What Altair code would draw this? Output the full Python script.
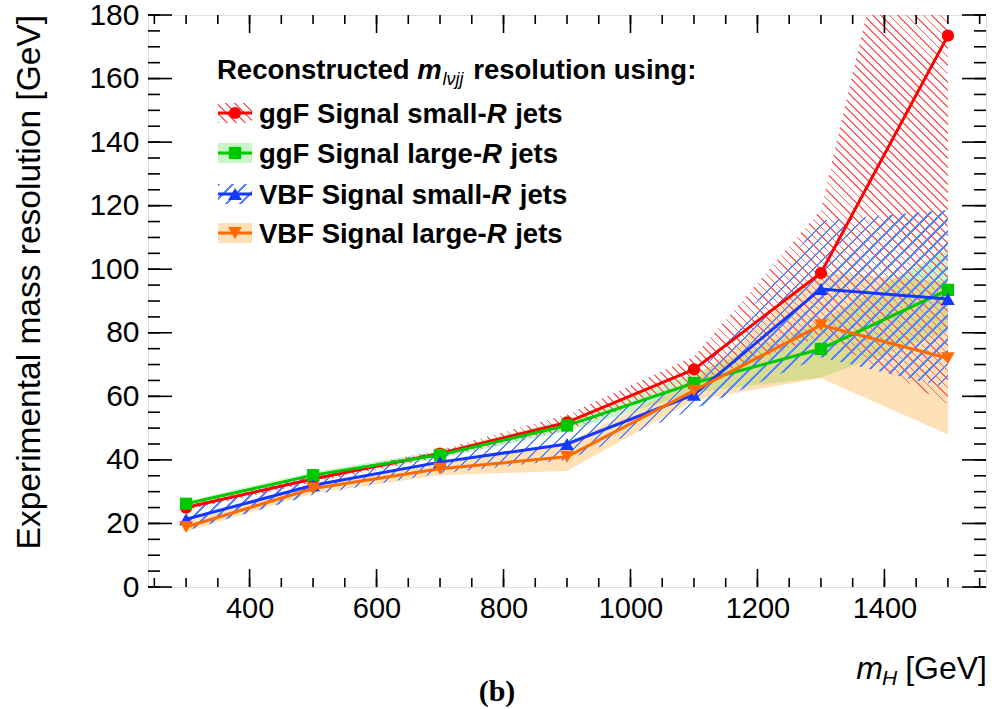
import altair as alt
import pandas as pd

# ---------------- data ----------------
mH = [300, 500, 700, 900, 1100, 1300, 1500]

ggF_small = [25.0, 34.0, 42.0, 51.8, 68.5, 98.8, 173.5]
ggF_small_err = [0.8, 1.0, 1.2, 2.5, 4.0, 20.0, 116.0]

ggF_large = [26.2, 35.2, 41.6, 50.8, 64.2, 74.9, 93.5]
ggF_large_err = [0.8, 1.0, 1.2, 1.8, 3.0, 9.0, 13.0]

VBF_small = [21.3, 32.0, 39.3, 45.0, 60.5, 93.8, 90.6]
VBF_small_err = [3.5, 3.0, 3.5, 5.0, 4.5, 21.5, 28.0]

VBF_large = [18.9, 31.0, 37.2, 41.0, 61.8, 82.4, 72.0]
VBF_large_err = [1.5, 1.5, 2.0, 4.5, 3.0, 16.7, 24.0]

x_tick_labels = [400, 600, 800, 1000, 1200, 1400]
y_tick_labels = [0, 20, 40, 60, 80, 100, 120, 140, 160, 180]
x_minor = list(range(250, 1551, 50))
y_minor = list(range(0, 181, 5))

# ---------------- layout ----------------
PW, PH = 838, 572
XDOM = [240, 1560]
YDOM = [0, 180]
FONT = "Liberation Sans"

xs = alt.Scale(domain=XDOM, nice=False, zero=False)
ys = alt.Scale(domain=YDOM, nice=False, zero=False)

RED, GREEN, BLUE, ORANGE = "#ff0000", "#00c800", "#1438ff", "#ff6a00"

def frame(vals, errs):
    return pd.DataFrame({
        "mH": mH, "val": vals,
        "lo": [v - e for v, e in zip(vals, errs)],
        "hi": [v + e for v, e in zip(vals, errs)],
    })

series = [
    ("ggF Signal small-", frame(ggF_small, ggF_small_err), RED, "circle"),
    ("ggF Signal large-", frame(ggF_large, ggF_large_err), GREEN, "square"),
    ("VBF Signal small-", frame(VBF_small, VBF_small_err), BLUE, "triangle-up"),
    ("VBF Signal large-", frame(VBF_large, VBF_large_err), ORANGE, "triangle-down"),
]

CLEAR = "rgba(255,255,255,0)"

def hatch(color, W, H, direction, period, frac=0.2):
    a, b = 1.0 / H, 1.0 / W
    k = (a + b) / (a * a + b * b)
    if direction == "\\":
        x1, y1, x2, y2 = 0, 1, k * a, 1 - k * b
    else:
        x1, y1, x2, y2 = 0, 0, k * a, k * b
    n = max(1, int(round((W + H) / period)))
    stops = []
    for i in range(n):
        o0, o1, o2 = i / n, (i + frac) / n, (i + 1) / n
        stops += [
            alt.GradientStop(color=color, offset=o0),
            alt.GradientStop(color=color, offset=o1),
            alt.GradientStop(color=CLEAR, offset=o1),
            alt.GradientStop(color=CLEAR, offset=o2),
        ]
    return alt.LinearGradient(gradient="linear", stops=stops,
                              x1=x1, y1=y1, x2=x2, y2=y2)

def band_bbox(df):
    W = (max(mH) - min(mH)) / (XDOM[1] - XDOM[0]) * PW
    H = (df["hi"].max() - df["lo"].min()) / (YDOM[1] - YDOM[0]) * PH
    return W, H

layers = []

# ---- axes (labels only) on an invisible layer
axis_layer = alt.Chart(series[0][1]).mark_point(opacity=0).encode(
    x=alt.X("mH:Q", scale=xs, axis=alt.Axis(
        values=x_tick_labels, format="d", ticks=False, domain=False, grid=False,
        labelFont=FONT, labelFontSize=29, labelColor="black", labelPadding=7,
        title=None)),
    y=alt.Y("val:Q", scale=ys, axis=alt.Axis(
        values=y_tick_labels, format="d", ticks=False, domain=False, grid=False,
        labelFont=FONT, labelFontSize=30, labelColor="black", labelPadding=9,
        title=None)),
)
layers.append(axis_layer)

# ---- bands
GFILL, OFILL = "#22dd22", "#ff9a10"
GOP, OOP = 0.25, 0.30
RH, BH = "#ff6060", "#5585ff"

def fill_band(df, color, opacity):
    return alt.Chart(df).mark_area(color=color, opacity=opacity, clip=True).encode(
        x=alt.X("mH:Q", scale=xs), y=alt.Y("lo:Q", scale=ys), y2="hi:Q")

def hatch_band(df, color, direction, period):
    W, H = band_bbox(df)
    return alt.Chart(df).mark_area(color=hatch(color, W, H, direction, period),
                                   clip=True).encode(
        x=alt.X("mH:Q", scale=xs), y=alt.Y("lo:Q", scale=ys), y2="hi:Q")

layers.append(fill_band(series[1][1], GFILL, GOP))
layers.append(fill_band(series[3][1], OFILL, OOP))
layers.append(hatch_band(series[0][1], RH, "\\", 8.5))
layers.append(hatch_band(series[2][1], BH, "/", 12.0))

# ---- lines and markers
for name, df, col, shape in series:
    layers.append(alt.Chart(df).mark_line(color=col, strokeWidth=3, clip=True).encode(
        x=alt.X("mH:Q", scale=xs), y=alt.Y("val:Q", scale=ys)))
    size = 150 if shape in ("circle", "square") else 190
    layers.append(alt.Chart(df).mark_point(shape=shape, filled=True, color=col,
                                           opacity=1, size=size, clip=True).encode(
        x=alt.X("mH:Q", scale=xs), y=alt.Y("val:Q", scale=ys)))

# ---- inside ticks on all four sides
xmaj = pd.DataFrame({"t": x_tick_labels})
xmin = pd.DataFrame({"t": x_minor})
ymaj = pd.DataFrame({"t": y_tick_labels})
ymin = pd.DataFrame({"t": y_minor})
TK = dict(color="black", strokeWidth=1.6)
for d, L in ((xmaj, 18), (xmin, 9)):
    layers.append(alt.Chart(d).mark_rule(**TK).encode(
        x=alt.X("t:Q", scale=xs), y=alt.value(PH), y2=alt.value(PH - L)))
    layers.append(alt.Chart(d).mark_rule(**TK).encode(
        x=alt.X("t:Q", scale=xs), y=alt.value(0), y2=alt.value(L)))
for d, L in ((ymaj, 24), (ymin, 12)):
    layers.append(alt.Chart(d).mark_rule(**TK).encode(
        y=alt.Y("t:Q", scale=ys), x=alt.value(0), x2=alt.value(L)))
    layers.append(alt.Chart(d).mark_rule(**TK).encode(
        y=alt.Y("t:Q", scale=ys), x=alt.value(PW), x2=alt.value(PW - L)))

# ---- text helpers
one = pd.DataFrame({"a": [0]})

BOLD_W = {' ': 278, '-': 333, ':': 333, 'a': 556, 'c': 556, 'd': 611, 'e': 556,
          'g': 611, 'i': 278, 'j': 278, 'l': 278, 'm': 889, 'n': 611, 'o': 611,
          'r': 389, 's': 556, 't': 333, 'u': 611, 'B': 722, 'F': 611, 'R': 722,
          'S': 667, 'V': 667}
REG_W = {' ': 278, '[': 278, ']': 278, 'G': 778, 'e': 556, 'V': 667, 'm': 833,
         'H': 722, 'l': 222, 'j': 222, 'ν': 500}

def tw(s, size, table):
    return sum(table.get(c, 556) for c in s) * size / 1000.0

def txt(s, x, y, size, weight="normal", style="normal", align="left",
        font=FONT, angle=0, baseline="alphabetic"):
    kw = dict(text=s, fontSize=size, fontWeight=weight, fontStyle=style,
              align=align, font=font, baseline=baseline, color="black")
    if angle:
        kw["angle"] = angle
    return alt.Chart(one).mark_text(**kw).encode(x=alt.value(x), y=alt.value(y))

# ---- legend
LS = 27.5
SP = tw(" ", LS, BOLD_W)
hx = 69
hy = 64
p1 = "Reconstructed"
layers.append(txt(p1, hx, hy, LS, weight="bold"))
mx = hx + tw(p1, LS, BOLD_W) + SP
layers.append(txt("m", mx, hy, LS, weight="bold", style="italic"))
sx = mx + tw("m", LS, BOLD_W) + 1
SS = 18
layers.append(txt("lνjj", sx, hy + 6, SS, style="italic"))
rx = sx + tw("lνjj", SS, REG_W) + 2 + SP
layers.append(txt("resolution using:", rx, hy, LS, weight="bold"))

rows_y = [98, 138, 179, 218]
sw_x0, sw_x1, mk_x, tx0 = 70, 104, 87, 111
for (name, df, col, shape), cy in zip(series, rows_y):
    if col == RED:
        fill = hatch(RH, sw_x1 - sw_x0, 20, "\\", 8.5)
        layers.append(alt.Chart(one).mark_rect(color=fill).encode(
            x=alt.value(sw_x0), x2=alt.value(sw_x1), y=alt.value(cy - 10), y2=alt.value(cy + 10)))
    elif col == BLUE:
        fill = hatch(BH, sw_x1 - sw_x0, 20, "/", 12.0)
        layers.append(alt.Chart(one).mark_rect(color=fill).encode(
            x=alt.value(sw_x0), x2=alt.value(sw_x1), y=alt.value(cy - 10), y2=alt.value(cy + 10)))
    elif col == GREEN:
        layers.append(alt.Chart(one).mark_rect(color=GFILL, opacity=GOP).encode(
            x=alt.value(sw_x0), x2=alt.value(sw_x1), y=alt.value(cy - 10), y2=alt.value(cy + 10)))
    else:
        layers.append(alt.Chart(one).mark_rect(color=OFILL, opacity=OOP).encode(
            x=alt.value(sw_x0), x2=alt.value(sw_x1), y=alt.value(cy - 10), y2=alt.value(cy + 10)))
    layers.append(alt.Chart(one).mark_rule(color=col, strokeWidth=3).encode(
        x=alt.value(sw_x0), x2=alt.value(sw_x1), y=alt.value(cy)))
    size = 150 if shape in ("circle", "square") else 190
    layers.append(alt.Chart(one).mark_point(shape=shape, filled=True, color=col,
                                            opacity=1, size=size).encode(
        x=alt.value(mk_x), y=alt.value(cy)))
    by = cy + 9.5
    layers.append(txt(name, tx0, by, LS, weight="bold"))
    r_x = tx0 + tw(name, LS, BOLD_W)
    layers.append(txt("R", r_x, by, LS, weight="bold", style="italic"))
    layers.append(txt("jets", r_x + tw("R", LS, BOLD_W) + SP + 1, by, LS, weight="bold"))

# ---- axis titles
layers.append(txt("Experimental mass resolution [GeV]", -118, 0, 33.5,
                  align="right", angle=270, baseline="middle"))
TS = 32
gx_right = 839
gev_w = tw("[GeV]", TS, REG_W)
layers.append(txt("[GeV]", gx_right, 664, TS, align="right"))
hx0 = gx_right - gev_w - 8 - tw("H", 21, REG_W)
layers.append(txt("H", hx0, 670, 21, style="italic"))
layers.append(txt("m", hx0 - tw("m", TS, REG_W) + 1, 664, TS, style="italic"))

# ---- (b)
layers.append(txt("(b)", 349, 686, 30, weight="bold", font="Liberation Serif",
                  align="center"))

chart = alt.layer(*layers).properties(
    width=PW, height=PH,
    autosize=alt.AutoSizeParams(type="none"),
    padding={"left": 148, "top": 15, "right": 9, "bottom": 122},
).configure_view(stroke="black", strokeWidth=2).configure(background="white")

chart.save("out.html", embed_options={"renderer": "svg", "actions": False})
